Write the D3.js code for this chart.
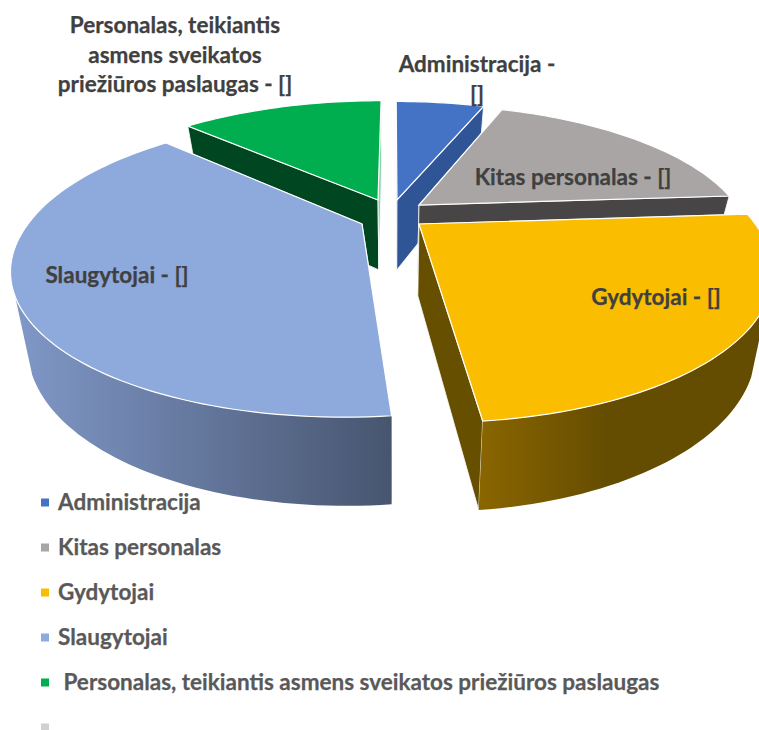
<!DOCTYPE html>
<html><head><meta charset="utf-8">
<script src="https://cdn.jsdelivr.net/npm/d3@7/dist/d3.min.js"></script>
<style>html,body{margin:0;padding:0;background:#fff;overflow:hidden}svg{display:block}
text{font-family:Lato,"Open Sans",sans-serif;font-weight:700;stroke-width:.25px}</style></head>
<body><svg id="c" width="759" height="730"></svg>
<script>
const categories = ["Administracija","Kitas personalas","Gydytojai","Slaugytojai"," Personalas, teikiantis asmens sveikatos priežiūros paslaugas",""];
const shares = [5.6, 18.25, 24.5, 38.95, 12.7, 0];
const topColors = ["#4472c4","#a9a5a4","#fbbd00","#8ea9db","#00ae4f","#d0d0d0"];
const innerWallColors = ["#2f5597","#474546","#665000","#47556f","#004620","#d0d0d0"];
const outerWallStart = ["#4472c4","#a9a5a4","#8a6600","#8098c8","#00ae4f","#d0d0d0"];
const outerWallEnd = ["#2f5597","#474546","#644c00","#47556f","#004620","#d0d0d0"];
const apexX = [397,419,419,362,378,378];
const apexY = [200,205,224,224,200,200];
const radiusScale = [.98,.98,1,.993,.99,1];
const frontBoost = [0,0,.028,.015,0,0];
const frontShear = [0,0,.15,.15,0,0];
const shrinkX = [.056,.056,.045,.045,.056,.056];
const labelLines = [["Administracija -","[]"],["Kitas personalas - []"],["Gydytojai - []"],["Slaugytojai - []"],["Personalas, teikiantis","asmens sveikatos","priežiūros paslaugas - []"],[]];
const labelX = [477,573,656,117,175,0];
const labelY = [72,185,305,283,33,0];

const CX=393, CY=213, R=329, A=133, K=0.267, DEPTH=71, SHRINK=0.056;
const svg=d3.select("#c"), defs=svg.append("defs");
const pie=d3.pie().sort(null).value(d=>d).startAngle(0).endAngle(2*Math.PI);
const arcs=pie(shares);
const line=d3.line().x(d=>d[0]).y(d=>d[1]);

function proj(i,theta,r,z){
  const dy=apexY[i]-CY, e=dy/(A+K*dy), ex=(apexX[i]-CX)*(1-K*e);
  const c=-Math.cos(theta)*r*radiusScale[i];
  const Y=c*(c>0?1+frontBoost[i]:1)+e;
  const X=Math.sin(theta)*r*R*radiusScale[i]+ex*(1+frontShear[i]*Math.max(0,c));
  const s=1/(1-K*Y);
  const t=z/DEPTH;
  return [CX+X*s*(1-t*shrinkX[i]), CY+A*Y*s*(1-t*SHRINK)+z*s];
}
function rim(i,a0,a1,z){
  const n=Math.max(2,Math.ceil((a1-a0)*40));
  return d3.range(n+1).map(j=>proj(i,a0+(a1-a0)*j/n,1,z));
}
const FRONT0=117*Math.PI/180, FRONT1=243*Math.PI/180;
const order=[4,0,1,3,2];
order.forEach(i=>{
  const a=arcs[i], g=svg.append("g");
  const a0=a.startAngle, a1=a.endAngle;
  const topRim=rim(i,a0,a1,0);
  const P0=proj(i,0,0,0), P1=proj(i,0,0,DEPTH);
  [a0,a1].forEach(t=>{
    g.append("path").attr("d",line([P0,proj(i,t,1,0),proj(i,t,1,DEPTH),P1])+"Z")
     .attr("fill",(i===4&&t===a1)?"#8fd3ac":innerWallColors[i]).attr("stroke","#fff").attr("stroke-width",.8);
  });
  const f0=Math.max(a0,FRONT0), f1=Math.min(a1,FRONT1);
  if(f1>f0){
    const t=rim(i,f0,f1,0), b=rim(i,f0,f1,DEPTH);
    const xs=d3.extent(t.concat(b),d=>d[0]);
    const gid="w"+i;
    const lg=defs.append("linearGradient").attr("id",gid).attr("gradientUnits","userSpaceOnUse")
      .attr("x1",xs[0]).attr("x2",xs[1]).attr("y1",0).attr("y2",0);
    lg.append("stop").attr("offset",0).attr("stop-color",outerWallStart[i]);
    lg.append("stop").attr("offset",i===2?.45:1).attr("stop-color",outerWallEnd[i]);
    g.append("path").attr("d",line(t.concat(b.slice().reverse()))+"Z")
     .attr("fill","url(#"+gid+")");
  }
  g.append("path").attr("d",line([P0].concat(topRim))+"Z")
   .attr("fill",topColors[i]).attr("stroke","#fff").attr("stroke-width",1.2);
});

const FS=22.5;
labelLines.forEach((ls,i)=>ls.forEach((t,j)=>{
  svg.append("text").attr("x",labelX[i]).attr("y",labelY[i]+j*29.5).attr("text-anchor","middle")
    .attr("font-size",FS).attr("fill","#404040").attr("stroke","#404040").text(t);
}));
const legY=d3.scaleLinear().domain([0,5]).range([502.5,727.5]);
categories.forEach((c,i)=>{
  svg.append("rect").attr("x",41).attr("y",legY(i)-4).attr("width",8).attr("height",8).attr("fill",topColors[i]);
  svg.append("text").attr("x",58).attr("y",legY(i)+7).attr("font-size",FS).attr("fill","#595959").attr("stroke","#595959")
    .style("white-space","pre").text(c);
});
</script></body></html>
